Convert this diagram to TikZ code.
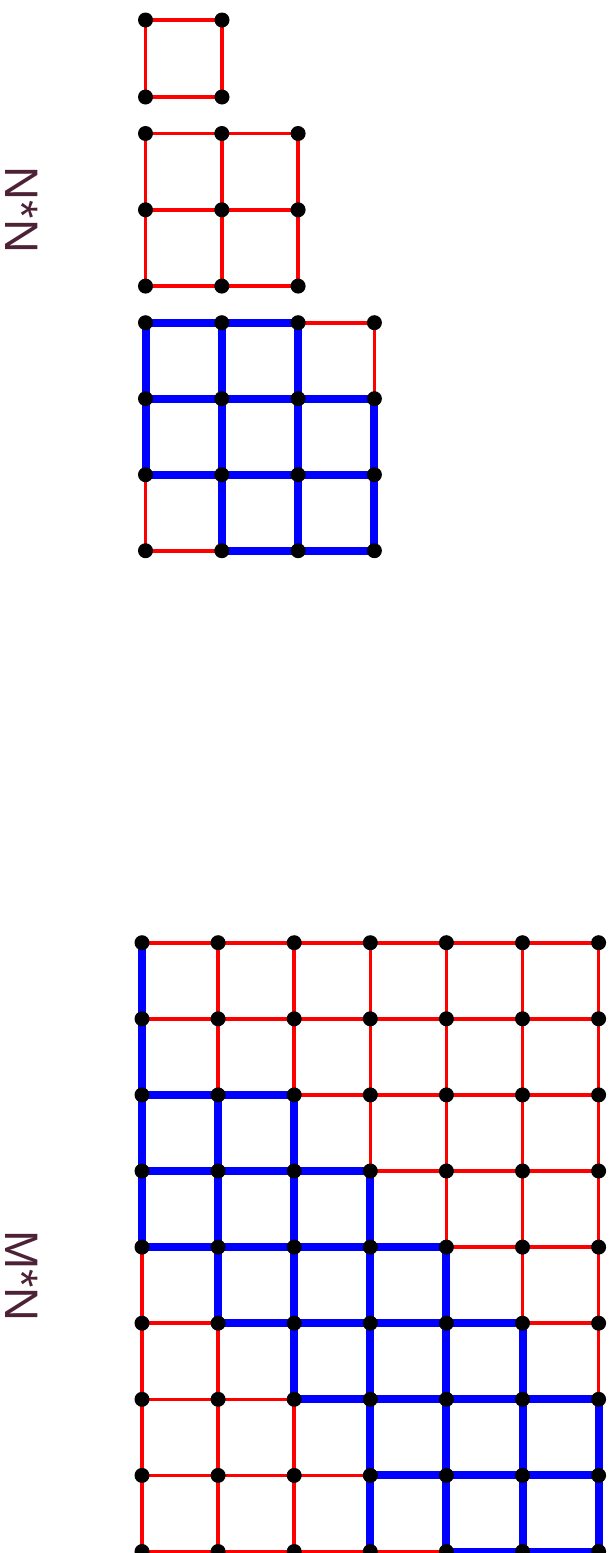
\documentclass[tikz,border=0pt]{standalone}
\usepackage{fontspec}
\setmainfont{Liberation Sans}
\definecolor{lab}{HTML}{4D2236}
\pgfdeclarelayer{background}
\pgfsetlayers{background,main}
\begin{document}
\begin{tikzpicture}[x=1pt,y=-1pt,
  dot/.style={circle,fill=black,inner sep=0pt,minimum size=15pt},
  redge/.style={draw=red,line width=3.6pt},
  bedge/.style={draw=blue,line width=8pt},
  lbl/.style={text=lab,font=\fontsize{47}{50}\selectfont,rotate=-90,inner sep=0pt}]
\useasboundingbox (0,0) rectangle (614,1553);
\clip (0,0) rectangle (614,1553);
% labels
\node[lbl] (lnn) at (22,210) {N*N};
\node[lbl] (lmn) at (22,1276) {M*N};
% grid A (1x1)
\foreach \r in {0,1} \foreach \c in {0,1}
  \node[dot] (a-\r-\c) at ({145.5+76.5*\c},{20+77*\r}) {};
% grid B (2x2)
\foreach \r in {0,1,2} \foreach \c in {0,1,2}
  \node[dot] (b-\r-\c) at ({145.5+76.3*\c},{133.5+76.3*\r}) {};
% grid C (3x3)
\foreach \r in {0,...,3} \foreach \c in {0,...,3}
  \node[dot] (c-\r-\c) at ({145.5+76.3*\c},{322.7+76*\r}) {};
% grid M (6x8)
\foreach \r in {0,...,8} \foreach \c in {0,...,6}
  \node[dot] (m-\r-\c) at ({142+76.1*\c},{942.7+76.1*\r}) {};
\begin{pgfonlayer}{background}
  % red lattice edges
  \foreach \r in {0,1} \draw[redge] (a-\r-0.center) -- (a-\r-1.center);
  \foreach \c in {0,1} \draw[redge] (a-0-\c.center) -- (a-1-\c.center);
  \foreach \r in {0,1,2} \draw[redge] (b-\r-0.center) -- (b-\r-2.center);
  \foreach \c in {0,1,2} \draw[redge] (b-0-\c.center) -- (b-2-\c.center);
  \foreach \r in {0,...,3} \draw[redge] (c-\r-0.center) -- (c-\r-3.center);
  \foreach \c in {0,...,3} \draw[redge] (c-0-\c.center) -- (c-3-\c.center);
  \foreach \r in {0,...,8} \draw[redge] (m-\r-0.center) -- (m-\r-6.center);
  \foreach \c in {0,...,6} \draw[redge] (m-0-\c.center) -- (m-8-\c.center);
  % blue paths, grid C
  \draw[bedge] (c-0-0.center) -- (c-2-0.center);
  \draw[bedge] (c-0-1.center) -- (c-3-1.center);
  \draw[bedge] (c-0-2.center) -- (c-3-2.center);
  \draw[bedge] (c-1-3.center) -- (c-3-3.center);
  \draw[bedge] (c-0-0.center) -- (c-0-2.center);
  \draw[bedge] (c-1-0.center) -- (c-1-3.center);
  \draw[bedge] (c-2-0.center) -- (c-2-3.center);
  \draw[bedge] (c-3-1.center) -- (c-3-3.center);
  % blue paths, grid M
  \draw[bedge] (m-0-0.center) -- (m-4-0.center);
  \draw[bedge] (m-2-1.center) -- (m-5-1.center);
  \draw[bedge] (m-2-2.center) -- (m-6-2.center);
  \draw[bedge] (m-3-3.center) -- (m-8-3.center);
  \draw[bedge] (m-4-4.center) -- (m-8-4.center);
  \draw[bedge] (m-5-5.center) -- (m-8-5.center);
  \draw[bedge] (m-6-6.center) -- (m-8-6.center);
  \draw[bedge] (m-2-0.center) -- (m-2-2.center);
  \draw[bedge] (m-3-0.center) -- (m-3-3.center);
  \draw[bedge] (m-4-0.center) -- (m-4-4.center);
  \draw[bedge] (m-5-1.center) -- (m-5-5.center);
  \draw[bedge] (m-6-2.center) -- (m-6-6.center);
  \draw[bedge] (m-7-3.center) -- (m-7-6.center);
  \draw[bedge] (m-8-4.center) -- (m-8-6.center);
\end{pgfonlayer}
\end{tikzpicture}
\end{document}
